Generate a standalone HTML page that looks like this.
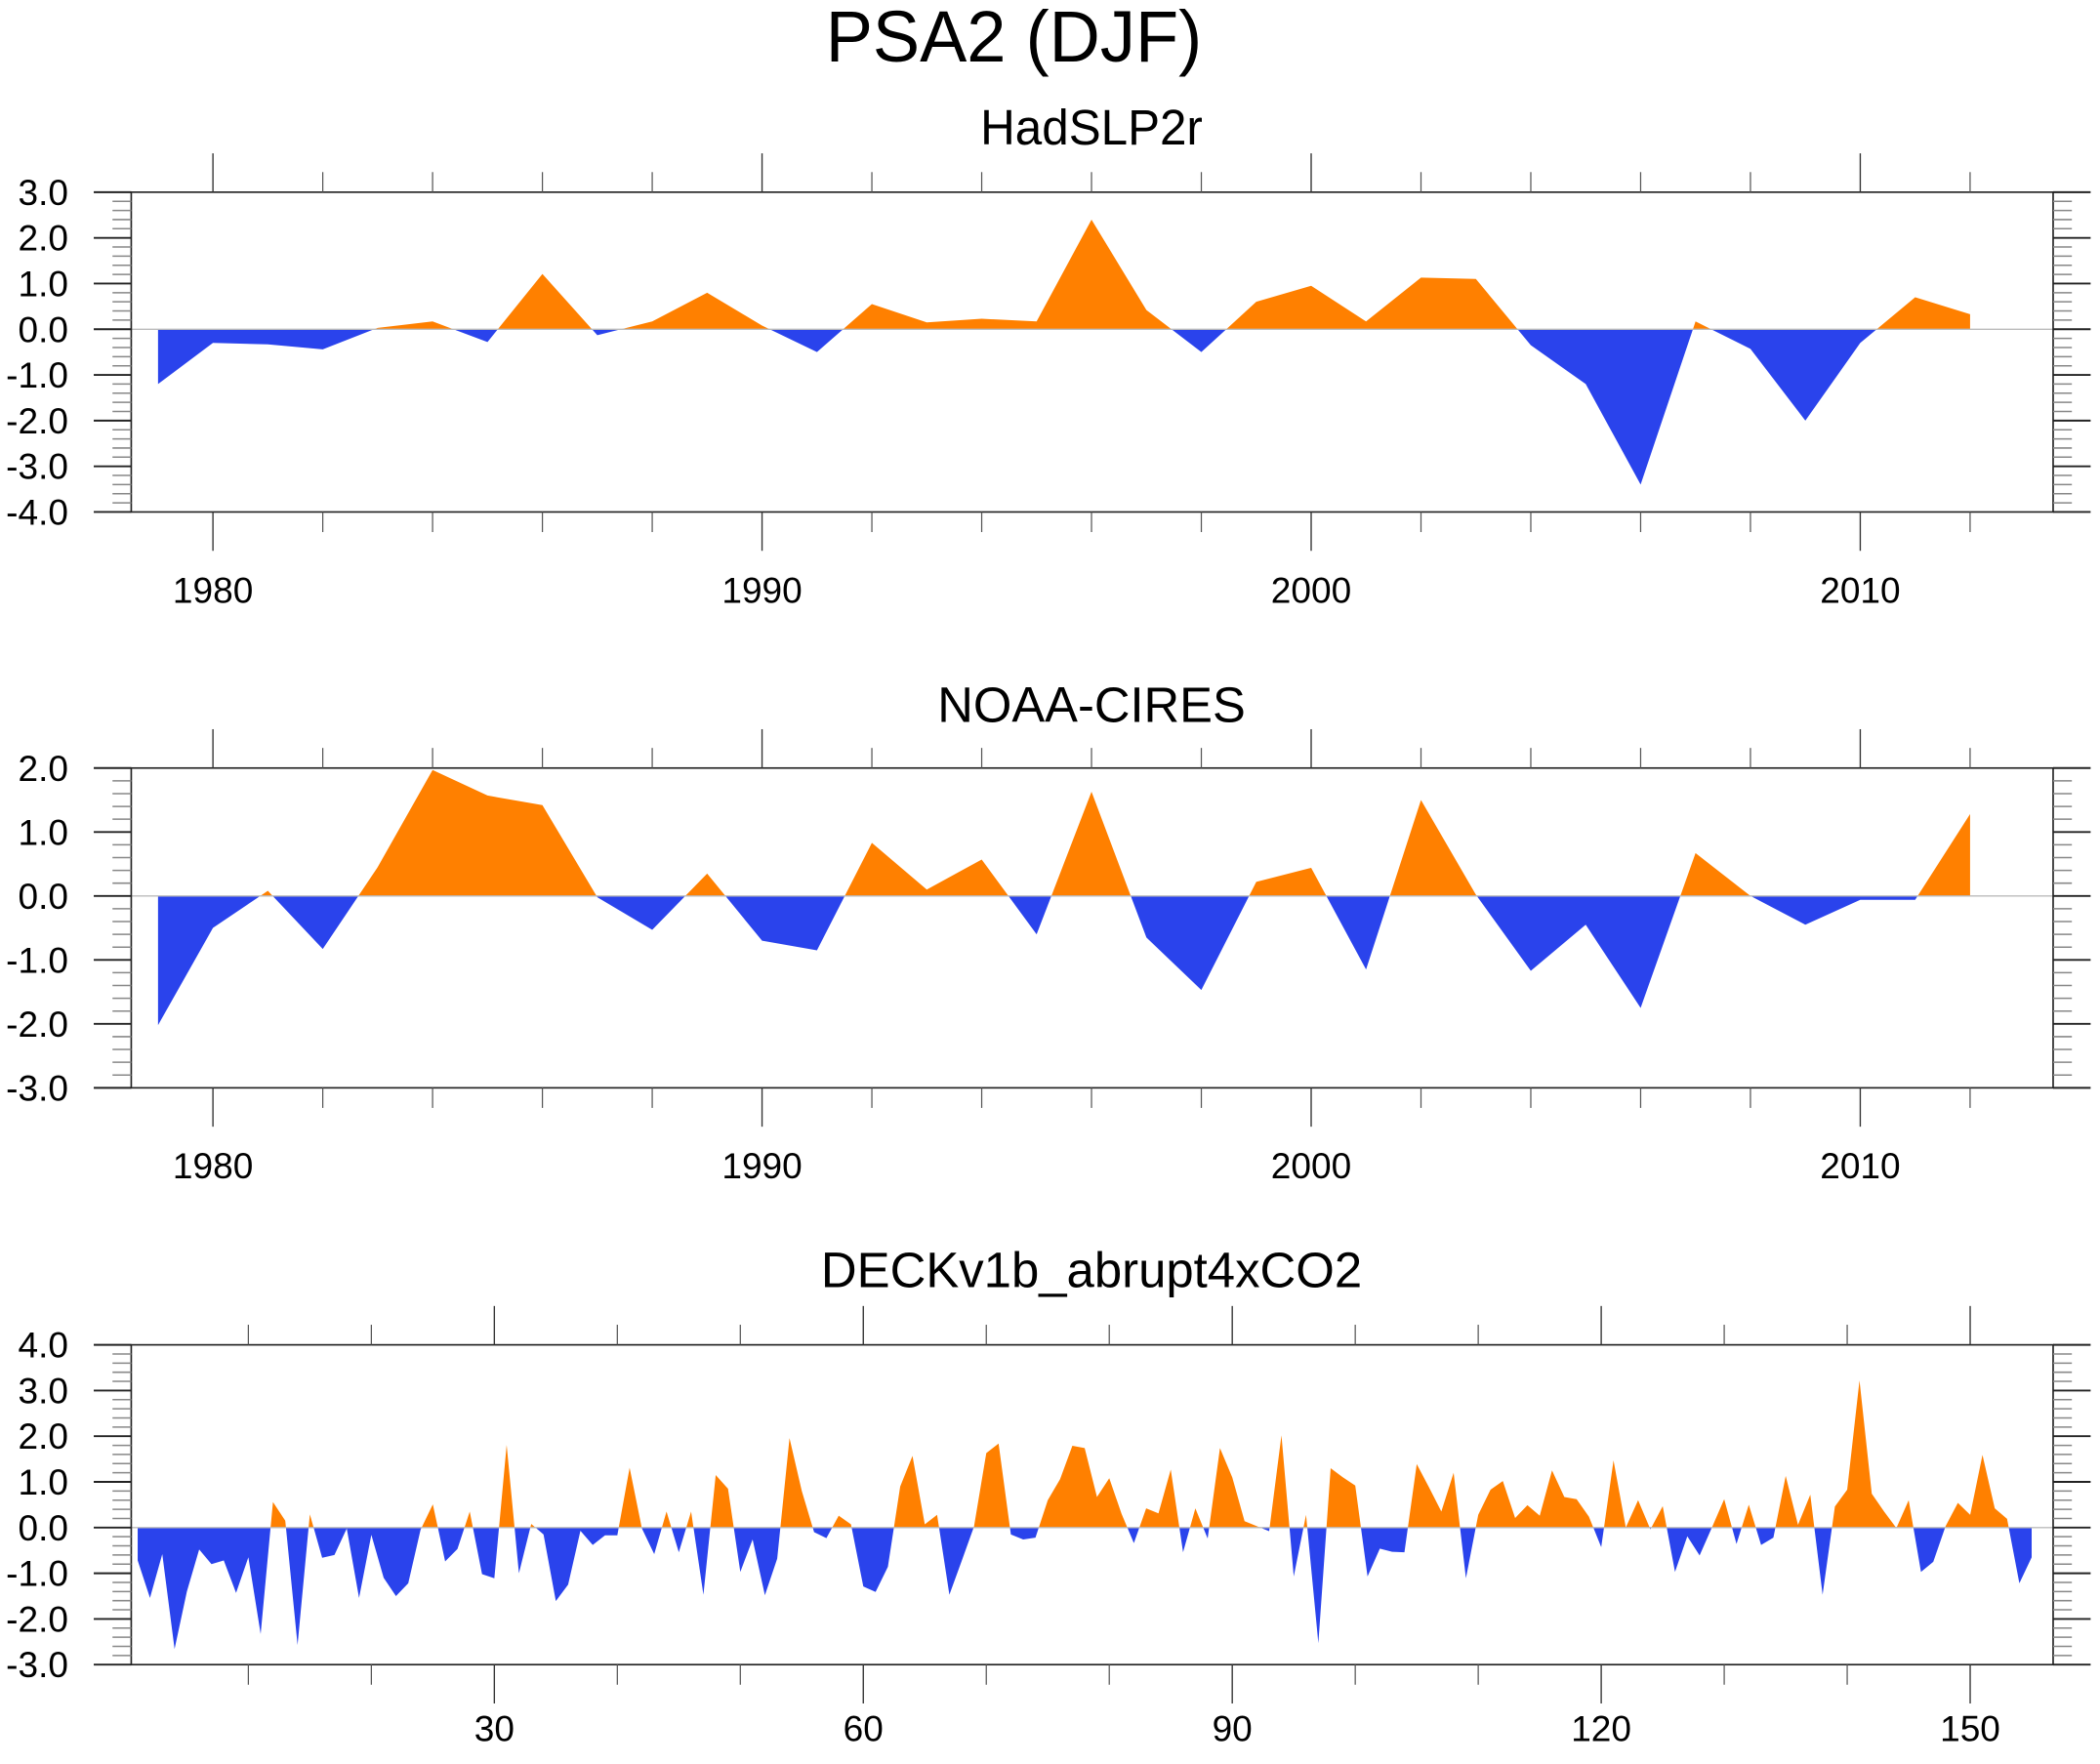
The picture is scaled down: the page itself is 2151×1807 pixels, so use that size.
<!DOCTYPE html>
<html><head><meta charset="utf-8"><title>PSA2 (DJF)</title>
<style>
html,body{margin:0;padding:0;background:#fff;}
svg{display:block;font-family:"Liberation Sans",Arial,sans-serif;}
</style></head>
<body>
<svg id="chart" width="2151" height="1807" viewBox="0 0 1568 1317.2" preserveAspectRatio="none" xmlns="http://www.w3.org/2000/svg">
<rect x="0" y="0" width="1568" height="1317.2" fill="#fff"/>
<text x="757" y="46" font-size="54" text-anchor="middle" textLength="281" lengthAdjust="spacingAndGlyphs">PSA2 (DJF)</text>
</svg>
<script>
// ---- data ----
var obsYears = [1979,1980,1981,1982,1983,1984,1985,1986,1987,1988,1989,1990,1991,1992,1993,1994,1995,1996,1997,1998,1999,2000,2001,2002,2003,2004,2005,2006,2007,2008,2009,2010,2011,2012];
var hadslpValues = [-1.2,-0.3,-0.33,-0.44,0.03,0.17,-0.28,1.21,-0.13,0.17,0.8,0.08,-0.5,0.55,0.15,0.23,0.17,2.4,0.42,-0.5,0.6,0.95,0.17,1.13,1.1,-0.35,-1.2,-3.4,0.17,-0.43,-2.0,-0.3,0.7,0.33];
var noaaValues = [-2.02,-0.5,0.08,-0.83,0.45,1.97,1.57,1.42,-0.02,-0.53,0.35,-0.7,-0.85,0.83,0.1,0.57,-0.6,1.63,-0.65,-1.47,0.22,0.44,-1.15,1.5,0.02,-1.17,-0.45,-1.75,0.67,0.0,-0.45,-0.06,-0.06,1.28];
var deckValues = [-0.72,-1.54,-0.58,-2.66,-1.40,-0.48,-0.80,-0.72,-1.43,-0.65,
-2.33,0.56,0.15,-2.57,0.29,-0.66,-0.60,-0.02,-1.54,-0.16,
-1.10,-1.50,-1.22,-0.05,0.51,-0.74,-0.47,0.35,-1.02,-1.11,
1.81,-1.0,0.08,-0.15,-1.61,-1.25,-0.07,-0.38,-0.17,-0.17,
1.31,-0.02,-0.58,0.35,-0.54,0.35,-1.47,1.15,0.85,-0.97,
-0.26,-1.48,-0.68,1.96,0.8,-0.1,-0.23,0.26,0.07,-1.29,
-1.41,-0.86,0.9,1.57,0.07,0.28,-1.47,-0.73,0.02,1.63,
1.84,-0.15,-0.26,-0.22,0.6,1.06,1.79,1.74,0.67,1.08,
0.3,-0.34,0.42,0.31,1.27,-0.54,0.42,-0.24,1.74,1.1,
0.14,0.03,-0.08,2.02,-1.07,0.28,-2.53,1.30,1.1,0.92,
-1.07,-0.46,-0.53,-0.54,1.39,0.88,0.35,1.2,-1.11,0.28,
0.83,1.02,0.21,0.49,0.26,1.25,0.67,0.62,0.24,-0.43,
1.47,0.0,0.6,-0.04,0.47,-0.97,-0.19,-0.61,0.0,0.62,
-0.36,0.5,-0.38,-0.22,1.13,0.06,0.72,-1.47,0.46,0.83,
3.22,0.74,0.35,-0.01,0.6,-0.97,-0.75,0.03,0.54,0.28,
1.59,0.42,0.19,-1.22,-0.65];
var hadslpYTicks = [3,2,1,0,-1,-2,-3,-4];
var noaaYTicks = [2,1,0,-1,-2,-3];
var deckYTicks = [4,3,2,1,0,-1,-2,-3];
var yearMajorTicks = [1980,1990,2000,2010];
var yearMinorTicks = [1982,1984,1986,1988,1992,1994,1996,1998,2002,2004,2006,2008,2012];
var indexMajorTicks = [30,60,90,120,150];
var indexMinorTicks = [10,20,40,50,70,80,100,110,130,140];

var NS = "http://www.w3.org/2000/svg";
var svg = document.getElementById("chart");
var POS = "#ff8000", NEG = "#2a43ec";
function mk(tag, attrs, parent){
  var e = document.createElementNS(NS, tag);
  for (var k in attrs) e.setAttribute(k, attrs[k]);
  (parent||svg).appendChild(e);
  return e;
}
var clipId = 0;
function drawPanel(p){
  var g = mk("g", {});
  
  
  var L = 98, R = 1533, T = p.top, B = p.top + 238.8;
  var yMax = p.yTicks[0], yMin = p.yTicks[p.yTicks.length-1];
  function X(v){ return p.x0 + (v - p.v0) * p.dx; }
  function Y(v){ return T + (yMax - v) / (yMax - yMin) * (B - T); }
  // title
  var t = mk("text", {x:815, y:p.titleY, "font-size":37, "text-anchor":"middle", textLength:p.titleW, lengthAdjust:"spacingAndGlyphs"}, g);
  t.textContent = p.title;
  
  
  // area
  var xs = p.xs, vs = p.values;
  var d = "M" + X(xs[0]) + "," + Y(0);
  for (var i=0;i<vs.length;i++) d += " L" + X(xs[i]) + "," + Y(vs[i]);
  d += " L" + X(xs[xs.length-1]) + "," + Y(0) + " Z";
  var defs = mk("defs", {}, g);
  var cp = "cp" + (clipId++), cn = "cn" + (clipId++);
  var c1 = mk("clipPath", {id:cp}, defs); mk("rect", {x:L, y:T, width:R-L, height:Y(0)-T}, c1);
  var c2 = mk("clipPath", {id:cn}, defs); mk("rect", {x:L, y:Y(0), width:R-L, height:B-Y(0)}, c2);
  var ap = mk("path", {d:d, fill:POS, "clip-path":"url(#"+cp+")"}, g);
  
  
  var an = mk("path", {d:d, fill:NEG, "clip-path":"url(#"+cn+")"}, g);
  
  
  // zero line
  var zl = mk("line", {x1:L, x2:R, y1:Y(0), y2:Y(0), stroke:"#bbb", "stroke-width":1}, g);
  
  
  // frame
  var fr = mk("rect", {x:L, y:T, width:R-L, height:B-T, fill:"none", stroke:"#222", "stroke-width":1.2}, g);
  
  
  // y ticks
  for (var v = yMin; v <= yMax + 1e-9; v += 0.2){
    var yy = Y(v), maj = Math.abs(v - Math.round(v)) < 1e-6;
    var len = maj ? 28 : 14;
    mk("line", {x1:L-len, x2:L, y1:yy, y2:yy, stroke: maj?"#222":"#888", "stroke-width":maj?1.4:1.1}, g);
    mk("line", {x1:R, x2:R+len, y1:yy, y2:yy, stroke: maj?"#222":"#888", "stroke-width":maj?1.4:1.1}, g);
  }
  for (var k=0;k<p.yTicks.length;k++){
    var lb = mk("text", {x:51, y:Y(p.yTicks[k])+9.5, "font-size":27, "text-anchor":"end"}, g);
    lb.textContent = p.yTicks[k].toFixed(1);
    
    
  }
  // x ticks
  for (var k=0;k<p.xMajor.length;k++){
    var xx = X(p.xMajor[k]);
    mk("line", {x1:xx, x2:xx, y1:B, y2:B+29, stroke:"#333", "stroke-width":1}, g);
    mk("line", {x1:xx, x2:xx, y1:T, y2:T-29, stroke:"#333", "stroke-width":1}, g);
    var xl = mk("text", {x:xx, y:p.labelY, "font-size":27, "text-anchor":"middle"}, g);
    xl.textContent = String(p.xMajor[k]);
    
    
  }
  for (var k=0;k<p.xMinor.length;k++){
    var xx = X(p.xMinor[k]);
    mk("line", {x1:xx, x2:xx, y1:B, y2:B+15, stroke:"#555", "stroke-width":0.9}, g);
    mk("line", {x1:xx, x2:xx, y1:T, y2:T-15, stroke:"#555", "stroke-width":0.9}, g);
  }
}
var deckIdx = deckValues.map(function(_, i){ return i+1; });
drawPanel({name:"hadslp2r", title:"HadSLP2r", titleY:108, titleW:166, top:143.5, yTicks:hadslpYTicks,
  xs:obsYears, values:hadslpValues, x0:159, v0:1980, dx:41, xMajor:yearMajorTicks, xMinor:yearMinorTicks, labelY:450});
drawPanel({name:"noaa-cires", title:"NOAA-CIRES", titleY:539, titleW:230, top:573.5, yTicks:noaaYTicks,
  xs:obsYears, values:noaaValues, x0:159, v0:1980, dx:41, xMajor:yearMajorTicks, xMinor:yearMinorTicks, labelY:880});
drawPanel({name:"deck-abrupt4xco2", title:"DECKv1b_abrupt4xCO2", titleY:961, titleW:404, top:1004.2, yTicks:deckYTicks,
  xs:deckIdx, values:deckValues, x0:102.8, v0:1, dx:9.183, xMajor:indexMajorTicks, xMinor:indexMinorTicks, labelY:1300});
</script>
</body></html>
